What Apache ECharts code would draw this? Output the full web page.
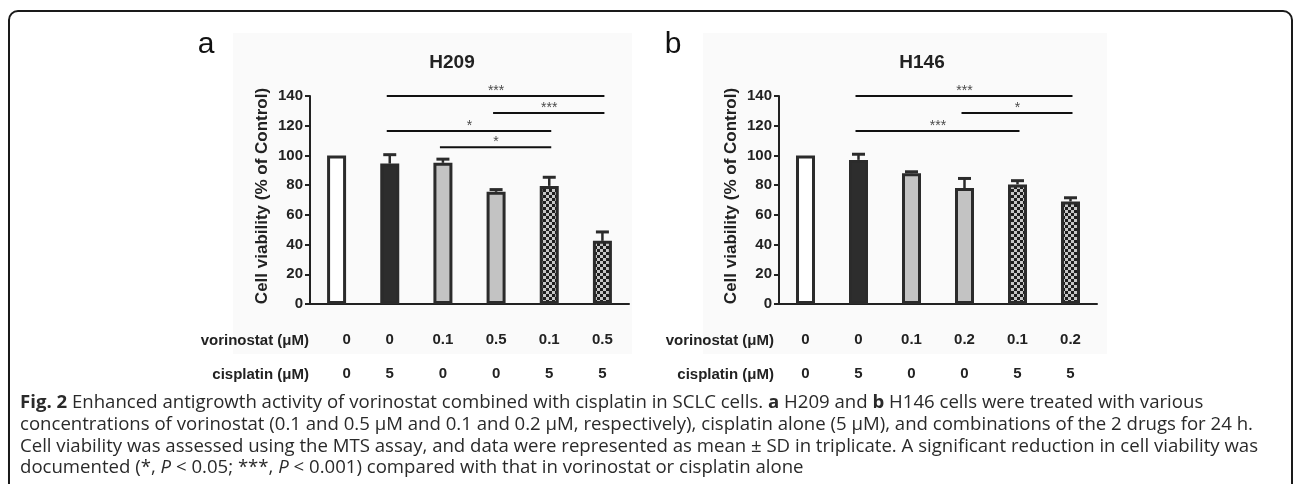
<!DOCTYPE html>
<html><head><meta charset="utf-8">
<script src="https://cdn.jsdelivr.net/npm/echarts@6/dist/echarts.min.js"></script>
<style>html,body{margin:0;padding:0;background:#fff}#c{width:1295px;height:484px}</style>
</head><body><div id="c"></div>
<script>
// ---------- data ----------
const vorinostatA = ['0', '0', '0.1', '0.5', '0.1', '0.5'];
const cisplatinA  = ['0', '5', '0', '0', '5', '5'];
const vorinostatB = ['0', '0', '0.1', '0.2', '0.1', '0.2'];
const cisplatinB  = ['0', '5', '0', '0', '5', '5'];
const h209Mean = [100, 94.5, 95, 75.5, 79.5, 42.5];
const h209SD   = [0, 6, 2.5, 1.5, 5.8, 6];
const h146Mean = [100, 97, 88, 78, 80.5, 69];
const h146SD   = [0, 3.8, 1, 6.5, 2.5, 2.5];
// significance brackets: [fromIndex, toIndex, yLevel, mark]
const sigA = [[1, 5, 140, '***'], [3, 5, 128.5, '***'], [1, 4, 116.5, '*'], [2, 4, 105.5, '*']];
const sigB = [[1, 5, 140, '***'], [3, 5, 128.5, '*'], [1, 4, 116.5, '***']];
const yTicks = [0, 20, 40, 60, 80, 100, 120, 140];
const titles = ['H209', 'H146'];
const panelLetters = ['a', 'b'];
const yName = 'Cell viability (% of Control)';
const rowNames = ['vorinostat (μM)', 'cisplatin (μM)'];
const captionLines = [
  '{b|Fig. 2} Enhanced antigrowth activity of vorinostat combined with cisplatin in SCLC cells. {b|a} H209 and {b|b} H146 cells were treated with various',
  'concentrations of vorinostat (0.1 and 0.5 μM and 0.1 and 0.2 μM, respectively), cisplatin alone (5 μM), and combinations of the 2 drugs for 24 h.',
  'Cell viability was assessed using the MTS assay, and data were represented as mean ± SD in triplicate. A significant reduction in cell viability was',
  'documented (*, {i|P} < 0.05; ***, {i|P} < 0.001) compared with that in vorinostat or cisplatin alone'
];

// ---------- styles ----------
const FF = '"Liberation Sans", Arial, sans-serif';
const DARK = '#2b2b2b';
const pc = document.createElement('canvas');
pc.width = 6; pc.height = 6;
const g = pc.getContext('2d');
g.fillStyle = '#c6c6c6'; g.fillRect(0, 0, 6, 6);
g.fillStyle = '#1f1f1f'; g.fillRect(0, 0, 3, 3); g.fillRect(3, 3, 3, 3);
const checker = { image: pc, repeat: 'repeat' };
const fills = ['#ffffff', '#2d2d2d', '#c3c3c3', '#c3c3c3', checker, checker];

// caption font size fitted so that the third line spans the caption width
const CF = '"Open Sans", "Noto Sans", sans-serif';
const mc = document.createElement('canvas').getContext('2d');
mc.font = '16px ' + CF;
const capWidth = 1239;
let capSize = 16 * capWidth / mc.measureText(captionLines[2]).width;
if (!isFinite(capSize) || capSize < 12 || capSize > 24) capSize = 18.6;

const chart = echarts.init(document.getElementById('c'), null, { renderer: 'canvas' });

function barData(means) {
  return means.map((v, i) => ({ value: v, itemStyle: { color: fills[i], borderColor: DARK, borderWidth: 3 } }));
}
function errSeries(idx, means, sds) {
  return {
    type: 'custom', xAxisIndex: idx, yAxisIndex: idx, z: 5, clip: false,
    data: means.map((m, i) => [i, m, sds[i]]),
    encode: { x: 0, y: 1 },
    renderItem: function (params, api) {
      const sd = api.value(2);
      if (!sd) return null;
      const x = api.value(0), m = api.value(1);
      const top = api.coord([x, m + sd]);
      const base = api.coord([x, m]);
      return { type: 'group', children: [
        { type: 'line', shape: { x1: top[0], y1: base[1], x2: top[0], y2: top[1] }, style: { stroke: DARK, lineWidth: 2.5 } },
        { type: 'line', shape: { x1: top[0] - 6.5, y1: top[1], x2: top[0] + 6.5, y2: top[1] }, style: { stroke: DARK, lineWidth: 3 } }
      ]};
    }
  };
}
function sigSeries(idx, sig) {
  return {
    type: 'custom', xAxisIndex: idx, yAxisIndex: idx, z: 6, clip: false,
    data: sig.map(s => [s[0], s[1], s[2]]),
    encode: { x: 0, y: 2 },
    renderItem: function (params, api) {
      const a = api.value(0), b = api.value(1), y = api.value(2);
      const p1 = api.coord([a, y]), p2 = api.coord([b, y]);
      const mark = sig[params.dataIndex][3];
      return { type: 'group', children: [
        { type: 'line', shape: { x1: p1[0] - 3, y1: p1[1], x2: p2[0] + 2, y2: p1[1] }, style: { stroke: '#111', lineWidth: 2 } },
        { type: 'text', x: (p1[0] + p2[0]) / 2, y: p1[1] + 2,
          style: { text: mark, fill: '#4a4a4a', font: '14px ' + FF, align: 'center', verticalAlign: 'bottom' } }
      ]};
    }
  };
}
function xAxisCfg(idx, vor, cis, firstPad) {
  return {
    type: 'category', gridIndex: idx, data: vor.map((v, i) => v + '|' + cis[i]),
    boundaryGap: true,
    axisLine: { lineStyle: { color: '#222', width: 2 } },
    axisTick: { alignWithLabel: true, length: 5, lineStyle: { color: '#222', width: 2 } },
    axisLabel: {
      interval: 0, margin: 19,
      formatter: function (val, i) {
        const st = (i === 0 && firstPad) ? 'p' : 'v';
        return '{' + st + '|' + vor[i] + '}\n{' + st + '|' + cis[i] + '}';
      },
      rich: {
        v: { fontFamily: FF, fontWeight: 'bold', fontSize: 15, color: '#222', lineHeight: 34 },
        p: { fontFamily: FF, fontWeight: 'bold', fontSize: 15, color: '#222', lineHeight: 34, padding: [0, 0, 0, 20] }
      }
    }
  };
}
function yAxisCfg(idx) {
  return {
    type: 'value', gridIndex: idx, min: yTicks[0], max: yTicks[yTicks.length - 1], interval: yTicks[1] - yTicks[0],
    name: yName, nameLocation: 'middle', nameRotate: 90, nameGap: 39,
    nameTextStyle: { fontFamily: FF, fontWeight: 'bold', fontSize: 17, color: '#222', padding: [0, 0, 0, 8] },
    axisLine: { show: true, lineStyle: { color: '#222', width: 2 } },
    axisTick: { show: true, length: 5, lineStyle: { color: '#222', width: 2 } },
    axisLabel: { fontFamily: FF, fontWeight: 'bold', fontSize: 15, color: '#222', margin: 7 },
    splitLine: { show: false }
  };
}

const graphics = [
  { type: 'rect', z: -10, shape: { x: 233, y: 33, width: 399, height: 321 }, style: { fill: '#fafafa' }, silent: true },
  { type: 'rect', z: -10, shape: { x: 703, y: 33, width: 404, height: 321 }, style: { fill: '#fafafa' }, silent: true },
  { type: 'rect', shape: { x: 9, y: 11, width: 1283, height: 540, r: 9 }, style: { fill: 'none', stroke: '#1a1a1a', lineWidth: 2 }, silent: true },
  { type: 'text', x: 206, y: 45, style: { text: panelLetters[0], font: '30px ' + FF, fill: '#111', align: 'center', verticalAlign: 'middle' } },
  { type: 'text', x: 673, y: 45, style: { text: panelLetters[1], font: '30px ' + FF, fill: '#111', align: 'center', verticalAlign: 'middle' } },
  { type: 'text', x: 452, y: 63, style: { text: titles[0], font: 'bold 19px ' + FF, fill: '#222', align: 'center', verticalAlign: 'middle' } },
  { type: 'text', x: 922, y: 63, style: { text: titles[1], font: 'bold 19px ' + FF, fill: '#222', align: 'center', verticalAlign: 'middle' } },
  { type: 'text', x: 309, y: 341, style: { text: rowNames[0], font: 'bold 15px ' + FF, fill: '#222', align: 'right', verticalAlign: 'middle' } },
  { type: 'text', x: 309, y: 375, style: { text: rowNames[1], font: 'bold 15px ' + FF, fill: '#222', align: 'right', verticalAlign: 'middle' } },
  { type: 'text', x: 774, y: 341, style: { text: rowNames[0], font: 'bold 15px ' + FF, fill: '#222', align: 'right', verticalAlign: 'middle' } },
  { type: 'text', x: 774, y: 375, style: { text: rowNames[1], font: 'bold 15px ' + FF, fill: '#222', align: 'right', verticalAlign: 'middle' } }
];
const capY = [403, 425, 447, 468];
captionLines.forEach((t, i) => {
  graphics.push({ type: 'text', x: 20, y: capY[i], style: {
    text: t, fontFamily: CF, fontSize: capSize, fill: '#2a2a2a', verticalAlign: 'middle', align: 'left',
    rich: {
      b: { fontFamily: CF, fontSize: capSize, fontWeight: 'bold', fill: '#2a2a2a' },
      i: { fontFamily: CF, fontSize: capSize, fontStyle: 'italic', fill: '#2a2a2a' }
    }
  }});
});

chart.setOption({
  backgroundColor: '#ffffff',
  animation: false,
  grid: [
    { left: 310, top: 96, width: 319, height: 208 },
    { left: 779, top: 96, width: 318, height: 208 }
  ],
  xAxis: [xAxisCfg(0, vorinostatA, cisplatinA, true), xAxisCfg(1, vorinostatB, cisplatinB, false)],
  yAxis: [yAxisCfg(0), yAxisCfg(1)],
  series: [
    { type: 'bar', xAxisIndex: 0, yAxisIndex: 0, barWidth: 19, data: barData(h209Mean) },
    { type: 'bar', xAxisIndex: 1, yAxisIndex: 1, barWidth: 19, data: barData(h146Mean) },
    errSeries(0, h209Mean, h209SD),
    errSeries(1, h146Mean, h146SD),
    sigSeries(0, sigA),
    sigSeries(1, sigB)
  ],
  graphic: graphics
});
</script></body></html>
